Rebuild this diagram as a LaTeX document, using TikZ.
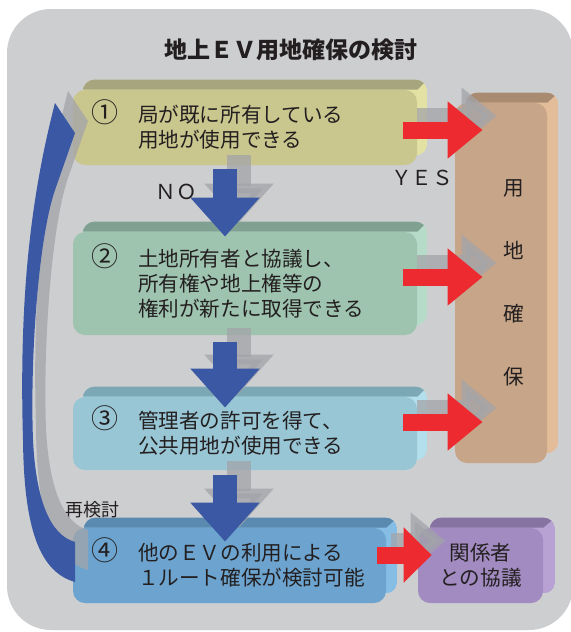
\documentclass[tikz,border=0pt]{standalone}
\usepackage{fontspec}
\setmainfont{Noto Sans CJK JP}
\usepackage{tikz}
\usetikzlibrary{arrows.meta}

\definecolor{bgray}{HTML}{CDCED0}
\definecolor{ink}{HTML}{231F20}
\definecolor{yelF}{HTML}{C9C68E}\definecolor{yelT}{HTML}{A6A57D}\definecolor{yelS}{HTML}{E4E1A5}
\definecolor{grnF}{HTML}{9EC4B0}\definecolor{grnT}{HTML}{80A192}\definecolor{grnS}{HTML}{B6DCC9}
\definecolor{cyaF}{HTML}{98C6D5}\definecolor{cyaT}{HTML}{7CA7B4}\definecolor{cyaS}{HTML}{B3DEEB}
\definecolor{bluF}{HTML}{6CA4CF}\definecolor{bluT}{HTML}{5A8AB0}\definecolor{bluS}{HTML}{86BDE5}
\definecolor{purF}{HTML}{A18BC0}\definecolor{purT}{HTML}{8673A1}\definecolor{purS}{HTML}{B8A2D3}
\definecolor{tanF}{HTML}{C7A588}\definecolor{tanT}{HTML}{A88B71}\definecolor{tanS}{HTML}{E3BD99}
\definecolor{arrRed}{HTML}{EC2A2F}
\definecolor{arrBlue}{HTML}{3B58A5}
\definecolor{shadeG}{HTML}{A3A4A9}

\pgfdeclarelayer{bg}\pgfdeclarelayer{bevel}\pgfdeclarelayer{shade}\pgfdeclarelayer{fg}
\pgfsetlayers{bg,bevel,main,shade,fg}

% back face of a box: node, top colour, side colour, dx, dy
\newcommand\bevel[5]{%
\begin{pgfonlayer}{bevel}
\begin{scope}
\clip[rounded corners=6pt] ([shift={(#4,#5)}]#1.south west) rectangle ([shift={(#4,#5)}]#1.north east);
\fill[#3] ([shift={(#4,#5)}]#1.south west) rectangle ([shift={(#4,#5)}]#1.north east);
\fill[#2] ([xshift=-20pt]#1.north west) -- (#1.north east) -- ++(#4,#5) -- ([shift={(-20pt,#5)}]#1.north west) -- cycle;
\end{scope}
\end{pgfonlayer}}
\newcommand\cnum[1]{\makebox[10.5pt]{\fontsize{13.5}{12.5}\selectfont #1}}

\tikzset{
  box/.style={rounded corners=6pt,inner sep=0pt,fill=#1},
  txt/.style={text=ink,inner sep=0pt,font=\fontsize{10.3}{12.5}\selectfont},
  redarr/.style={arrRed,line width=8.5pt,-{Triangle[length=17.5pt,width=27.5pt]}},
  bluarr/.style={arrBlue,line width=12pt,-{Triangle[length=19.5pt,width=33.5pt]}},
  shadow/.style={shadeG,opacity=.75,transform canvas={shift={(7pt,7pt)}}}
}

\begin{document}
\begin{tikzpicture}[x=0.5pt,y=-0.5pt]
\useasboundingbox (0,0) rectangle (571,632);
\begin{pgfonlayer}{bg}
\fill[white] (0,0) rectangle (571,632);
\fill[bgray,rounded corners=22pt] (7,9) rectangle (573,630);
\end{pgfonlayer}

\node[text=ink,font=\bfseries\fontsize{11.5}{14}\selectfont] (title) at (291,50) {地上ＥＶ用地確保の検討};

% boxes
\node[box=yelF,minimum width=172pt,minimum height=37.5pt] (b1) at (245,127.5) {};
\bevel{b1}{yelT}{yelS}{5pt}{5pt}
\node[txt,anchor=west] (t1) at ([xshift=10.5pt]b1.west)
  {\begin{tabular}{@{}l@{\hspace{11.5pt}}l@{}}\cnum{①}&局が既に所有している\\&用地が使用できる\end{tabular}};

\node[box=grnF,minimum width=172pt,minimum height=51.5pt] (b2) at (245,283.5) {};
\bevel{b2}{grnT}{grnS}{5pt}{5pt}
\node[txt,anchor=west] (t2) at ([xshift=10.5pt]b2.west)
  {\begin{tabular}{@{}l@{\hspace{11.5pt}}l@{}}\cnum{②}&土地所有者と協議し、\\&所有権や地上権等の\\&権利が新たに取得できる\end{tabular}};

\node[box=cyaF,minimum width=172pt,minimum height=36.5pt] (b3) at (245,433.5) {};
\bevel{b3}{cyaT}{cyaS}{5pt}{5pt}
\node[txt,anchor=west] (t3) at ([xshift=10.5pt]b3.west)
  {\begin{tabular}{@{}l@{\hspace{11.5pt}}l@{}}\cnum{③}&管理者の許可を得て、\\&公共用地が使用できる\end{tabular}};

\node[box=bluF,minimum width=156.5pt,minimum height=37.5pt] (b4) at (229.5,565.5) {};
\bevel{b4}{bluT}{bluS}{5.5pt}{5pt}
\node[txt,anchor=west] (t4) at ([xshift=10.5pt]b4.west)
  {\begin{tabular}{@{}l@{\hspace{11.5pt}}l@{}}\cnum{④}&他のＥＶの利用による\\&１ルート確保が検討可能\end{tabular}};

\node[box=purF,txt,align=center,minimum width=62.5pt,minimum height=37.5pt] (talk) at (480.5,565.5) {関係者\\との協議};
\bevel{talk}{purT}{purS}{6pt}{5pt}

\node[box=tanF,minimum width=46pt,minimum height=180pt] (land) at (501,283) {};
\bevel{land}{tanT}{tanS}{5.5pt}{5pt}
\node[txt,align=center,font=\fontsize{10.3}{31.5}\selectfont] (landt) at ([xshift=6.5pt]land.center) {用\\地\\確\\保};

% labels
\node[txt] (no) at (176,192) {ＮＯ};
\node[txt] (yes) at (422,178) {ＹＥＳ};
\node[txt,font=\fontsize{9}{11}\selectfont] (again) at (92,510) {再検討};

% arrow ends
\coordinate (r1) at ([shift={(-7pt,-1.25pt)}]b1.east);
\coordinate (r2) at ([shift={(-7pt,3.25pt)}]b2.east);
\coordinate (r3) at ([shift={(-7pt,5.75pt)}]b3.east);
\coordinate (r4) at ([shift={(-4.5pt,5.25pt)}]b4.east);
\coordinate (d1) at ([shift={(-10pt,-2pt)}]b1.south);
\coordinate (d2) at ([shift={(-10pt,-3.5pt)}]b2.south);
\coordinate (d3) at ([shift={(-10pt,-2.5pt)}]b3.south);

\path[save path=\backpath] (75,582) .. controls (40,572) and (24,530) .. (23,440)
  .. controls (19,300) and (30,200) .. (55,103) -- (75,133) -- (55,190)
  .. controls (38,240) and (30,360) .. (33,440) .. controls (36,500) and (50,535) .. (75,542) -- cycle;

\begin{pgfonlayer}{shade}
\fill[shadeG,opacity=.75,transform canvas={shift={(6.5pt,6pt)}},use path=\backpath];
\draw[redarr,shadow] (r1) -- ([xshift=14pt]land.west |- r1);
\draw[redarr,shadow] (r2) -- ([xshift=14pt]land.west |- r2);
\draw[redarr,shadow] (r3) -- ([xshift=14pt]land.west |- r3);
\draw[redarr,shadow] (r4) -- ([xshift=7pt]talk.west |- r4);
\draw[bluarr,shadow] (d1) -- ([yshift=-2.5pt]d1 |- b2.north);
\draw[bluarr,shadow] (d2) -- ([yshift=-5.5pt]d2 |- b3.north);
\draw[bluarr,shadow] (d3) -- ([yshift=-7pt]d3 |- b4.north);
\end{pgfonlayer}

\begin{pgfonlayer}{fg}
\fill[arrBlue,use path=\backpath];
\draw[redarr] (r1) -- ([xshift=14pt]land.west |- r1);
\draw[redarr] (r2) -- ([xshift=14pt]land.west |- r2);
\draw[redarr] (r3) -- ([xshift=14pt]land.west |- r3);
\draw[redarr,-{Triangle[length=14pt,width=27pt]}] (r4) -- ([xshift=7pt]talk.west |- r4);
\draw[bluarr] (d1) -- ([yshift=-2.5pt]d1 |- b2.north);
\draw[bluarr] (d2) -- ([yshift=-5.5pt]d2 |- b3.north);
\draw[bluarr] (d3) -- ([yshift=-7pt]d3 |- b4.north);
\end{pgfonlayer}
\end{tikzpicture}
\end{document}
